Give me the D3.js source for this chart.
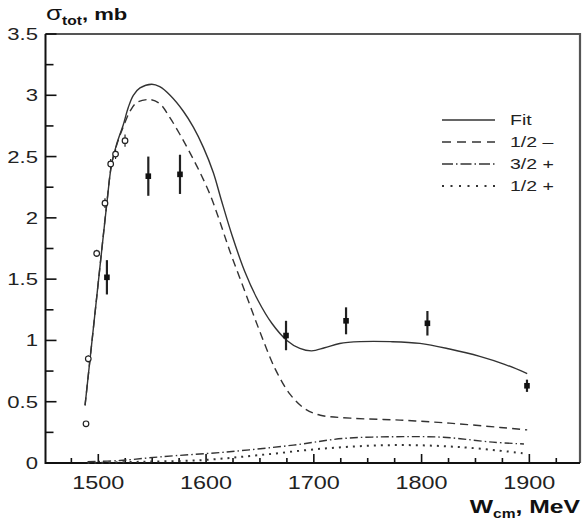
<!DOCTYPE html>
<html>
<head>
<meta charset="utf-8">
<script src="https://cdn.jsdelivr.net/npm/d3@7"></script>
<style>
  body { margin: 0; background: #fff; }
  svg { display: block; font-family: "Liberation Sans", Arial, sans-serif; }
</style>
</head>
<body>
<div id="chart"></div>
<script>
// --------------------------------------
//  Data
// --------------------------------------

// Fit curve [W (MeV), sigma (mb)]
const fitCurve = [
  [1487.7, 0.47], [1498, 1.31], [1507.8, 2.11], [1512.4, 2.44], [1517, 2.6],
  [1520, 2.68], [1523.2, 2.76], [1527.8, 2.9], [1532.5, 3.0], [1538.7, 3.06],
  [1549.6, 3.09], [1557, 3.07], [1566.6, 3.0], [1578.9, 2.87], [1588.2, 2.74],
  [1597.5, 2.575], [1606.7, 2.37], [1614, 2.15], [1624, 1.86], [1636, 1.56],
  [1648, 1.33], [1661, 1.14], [1675, 1.0], [1687, 0.935], [1698, 0.915],
  [1710, 0.94], [1724, 0.975], [1743, 0.99], [1771, 0.99], [1798.5, 0.976],
  [1826, 0.93], [1854, 0.87], [1877, 0.805], [1898, 0.73]
];

// 1/2- partial wave
const halfMinus = [
  [1487.7, 0.47], [1498, 1.31], [1507.8, 2.11], [1512.4, 2.44], [1518, 2.62],
  [1524, 2.76], [1529.4, 2.87], [1535.6, 2.94], [1548, 2.965], [1557.3, 2.93],
  [1566.6, 2.815], [1575.8, 2.68], [1585.1, 2.53], [1594.4, 2.37], [1603.7, 2.19],
  [1612, 1.99], [1622, 1.73], [1636, 1.4], [1650, 1.07], [1664, 0.77],
  [1678, 0.56], [1692, 0.44], [1706, 0.39], [1734, 0.366], [1780, 0.35],
  [1826, 0.325], [1873, 0.29], [1898, 0.27]
];

// 3/2+ partial wave
const threeHalfPlus = [
  [1490, 0.01], [1520, 0.02], [1557, 0.05], [1619, 0.09], [1681, 0.146],
  [1727, 0.2], [1773.6, 0.214], [1820, 0.21], [1866, 0.17], [1895, 0.155]
];

// 1/2+ partial wave
const halfPlus = [
  [1490, 0.0], [1540, 0.01], [1597, 0.024], [1650, 0.065], [1712, 0.12],
  [1773.6, 0.146], [1835.7, 0.13], [1895, 0.079]
];

// open circles: W, sigma, error
const circleW   = [1488.6, 1490.7, 1498.5, 1506.2, 1511.5, 1516, 1524.8];
const circleSig = [0.32, 0.85, 1.71, 2.12, 2.44, 2.52, 2.63];
const circleErr = [0.02, 0.03, 0.03, 0.04, 0.04, 0.04, 0.05];

// filled squares: W, sigma, error
const squareW   = [1508, 1546.4, 1575.8, 1674.2, 1729.9, 1805.4, 1897.8];
const squareSig = [1.515, 2.34, 2.355, 1.04, 1.16, 1.14, 0.63];
const squareErr = [0.14, 0.16, 0.16, 0.12, 0.11, 0.1, 0.05];

const xTicks = [1500, 1600, 1700, 1800, 1900];
const yTicks = [0, 0.5, 1, 1.5, 2, 2.5, 3, 3.5];

const legendItems = [
  { label: "Fit",   dash: null },
  { label: "1/2 \u2013", dash: "9,6" },
  { label: "3/2 +", dash: "11,3,1.5,3" },
  { label: "1/2 +", dash: "2,6.5" }
];
const curveDash = [null, "8,5", "8,3,1.5,3", "2,5"];

// --------------------------------------
//  Canvas and scales
// --------------------------------------

const width = 587;
const height = 523;
const plot = {left: 45.5, right: 580, top: 34, bottom: 463};

const svg = d3.select("#chart")
  .append("svg")
    .attr("width", width)
    .attr("height", height);

const x = d3.scaleLinear()
    .domain([1451, 1947])
    .range([plot.left, plot.right]);

const y = d3.scaleLinear()
    .domain([0, 3.5])
    .range([plot.bottom, plot.top]);

const sx = 1.3; // the original lettering is stretched sideways

// --------------------------------------
//  Frame and ticks
// --------------------------------------

// top and right frame (grey)
svg.append("path")
    .attr("d", `M${plot.left},${plot.top} H${plot.right} V${plot.bottom}`)
    .attr("fill", "none")
    .attr("stroke", "#555")
    .attr("stroke-width", 2.2);

// left and bottom axis
svg.append("path")
    .attr("d", `M${plot.left},${plot.top} V${plot.bottom} H${plot.right}`)
    .attr("fill", "none")
    .attr("stroke", "#111")
    .attr("stroke-width", 2);

// y ticks every 0.25
svg.append("g")
  .selectAll("line")
  .data(d3.range(0, 3.51, 0.25))
  .join("line")
    .attr("x1", plot.left)
    .attr("x2", d => plot.left + (Math.abs(d * 2 - Math.round(d * 2)) < 1e-6 ? 11 : 8))
    .attr("y1", d => y(d))
    .attr("y2", d => y(d))
    .attr("stroke", "#111")
    .attr("stroke-width", 1.6);

// x ticks every 25 MeV
svg.append("g")
  .selectAll("line")
  .data(d3.range(1475, 1946, 25))
  .join("line")
    .attr("x1", d => x(d))
    .attr("x2", d => x(d))
    .attr("y1", plot.bottom)
    .attr("y2", d => plot.bottom - (d % 100 === 0 ? 9 : 5))
    .attr("stroke", "#111")
    .attr("stroke-width", 1.6);

// tick labels
svg.append("g")
  .selectAll("text")
  .data(yTicks)
  .join("text")
    .attr("transform", d => `translate(38, ${y(d) + 6}) scale(${sx},1)`)
    .attr("text-anchor", "end")
    .attr("font-size", 17)
    .attr("fill", "#222")
    .text(d => d);

svg.append("g")
  .selectAll("text")
  .data(xTicks)
  .join("text")
    .attr("transform", d => `translate(${x(d)}, 489) scale(${sx},1)`)
    .attr("text-anchor", "middle")
    .attr("font-size", 18)
    .attr("fill", "#222")
    .text(d => d);

// axis titles
const yTitle = svg.append("text")
    .attr("transform", `translate(46, 20) scale(${sx},1)`)
    .attr("fill", "#111");
yTitle.append("tspan").attr("font-size", 20).text("\u03c3");
yTitle.append("tspan").attr("font-size", 12).attr("font-weight", "bold").attr("dy", 5).text("tot");
yTitle.append("tspan").attr("font-size", 17).attr("font-weight", "bold").attr("dy", -5).text(", mb");

const xTitle = svg.append("text")
    .attr("transform", `translate(580, 513) scale(${sx},1)`)
    .attr("text-anchor", "end")
    .attr("fill", "#111");
xTitle.append("tspan").attr("font-size", 19).attr("font-weight", "bold").text("W");
xTitle.append("tspan").attr("font-size", 12).attr("font-weight", "bold").attr("dy", 5).text("cm");
xTitle.append("tspan").attr("font-size", 19).attr("font-weight", "bold").attr("dy", -5).text(", MeV");

// --------------------------------------
//  Curves
// --------------------------------------

const line = d3.line()
    .x(d => x(d[0]))
    .y(d => y(d[1]))
    .curve(d3.curveCatmullRom.alpha(0.5));

const curves = [fitCurve, halfMinus, threeHalfPlus, halfPlus];

svg.append("g")
  .selectAll("path")
  .data(curves)
  .join("path")
    .attr("d", line)
    .attr("fill", "none")
    .attr("stroke", "#333")
    .attr("stroke-width", (d, i) => i === 3 ? 2 : 1.4)
    .attr("stroke-dasharray", (d, i) => curveDash[i]);

// --------------------------------------
//  Data points
// --------------------------------------

const circles = circleW.map((w, i) => ({w: w, s: circleSig[i], e: circleErr[i]}));
const squares = squareW.map((w, i) => ({w: w, s: squareSig[i], e: squareErr[i]}));

svg.append("g")
  .selectAll("line")
  .data(circles)
  .join("line")
    .attr("x1", d => x(d.w))
    .attr("x2", d => x(d.w))
    .attr("y1", d => y(d.s - d.e))
    .attr("y2", d => y(d.s + d.e))
    .attr("stroke", "#222")
    .attr("stroke-width", 1.2);

svg.append("g")
  .selectAll("circle")
  .data(circles)
  .join("circle")
    .attr("cx", d => x(d.w))
    .attr("cy", d => y(d.s))
    .attr("r", 2.8)
    .attr("fill", "#fff")
    .attr("stroke", "#222")
    .attr("stroke-width", 1.2);

svg.append("g")
  .selectAll("line")
  .data(squares)
  .join("line")
    .attr("x1", d => x(d.w))
    .attr("x2", d => x(d.w))
    .attr("y1", d => y(d.s - d.e))
    .attr("y2", d => y(d.s + d.e))
    .attr("stroke", "#222")
    .attr("stroke-width", 2.2);

svg.append("g")
  .selectAll("rect")
  .data(squares)
  .join("rect")
    .attr("x", d => x(d.w) - 2.8)
    .attr("y", d => y(d.s) - 2.8)
    .attr("width", 5.6)
    .attr("height", 5.6)
    .attr("fill", "#111");

// --------------------------------------
//  Legend
// --------------------------------------

const legend = svg.append("g")
  .selectAll("g")
  .data(legendItems)
  .join("g")
    .attr("transform", (d, i) => `translate(0, ${120 + i * 22})`);

legend.append("line")
    .attr("x1", 442)
    .attr("x2", 495)
    .attr("stroke", "#333")
    .attr("stroke-width", (d, i) => i === 3 ? 2 : 1.4)
    .attr("stroke-dasharray", d => d.dash);

legend.append("text")
    .attr("transform", `translate(510, 5) scale(${sx},1)`)
    .attr("font-size", 15)
    .attr("fill", "#222")
    .text(d => d.label);
</script>
</body>
</html>
